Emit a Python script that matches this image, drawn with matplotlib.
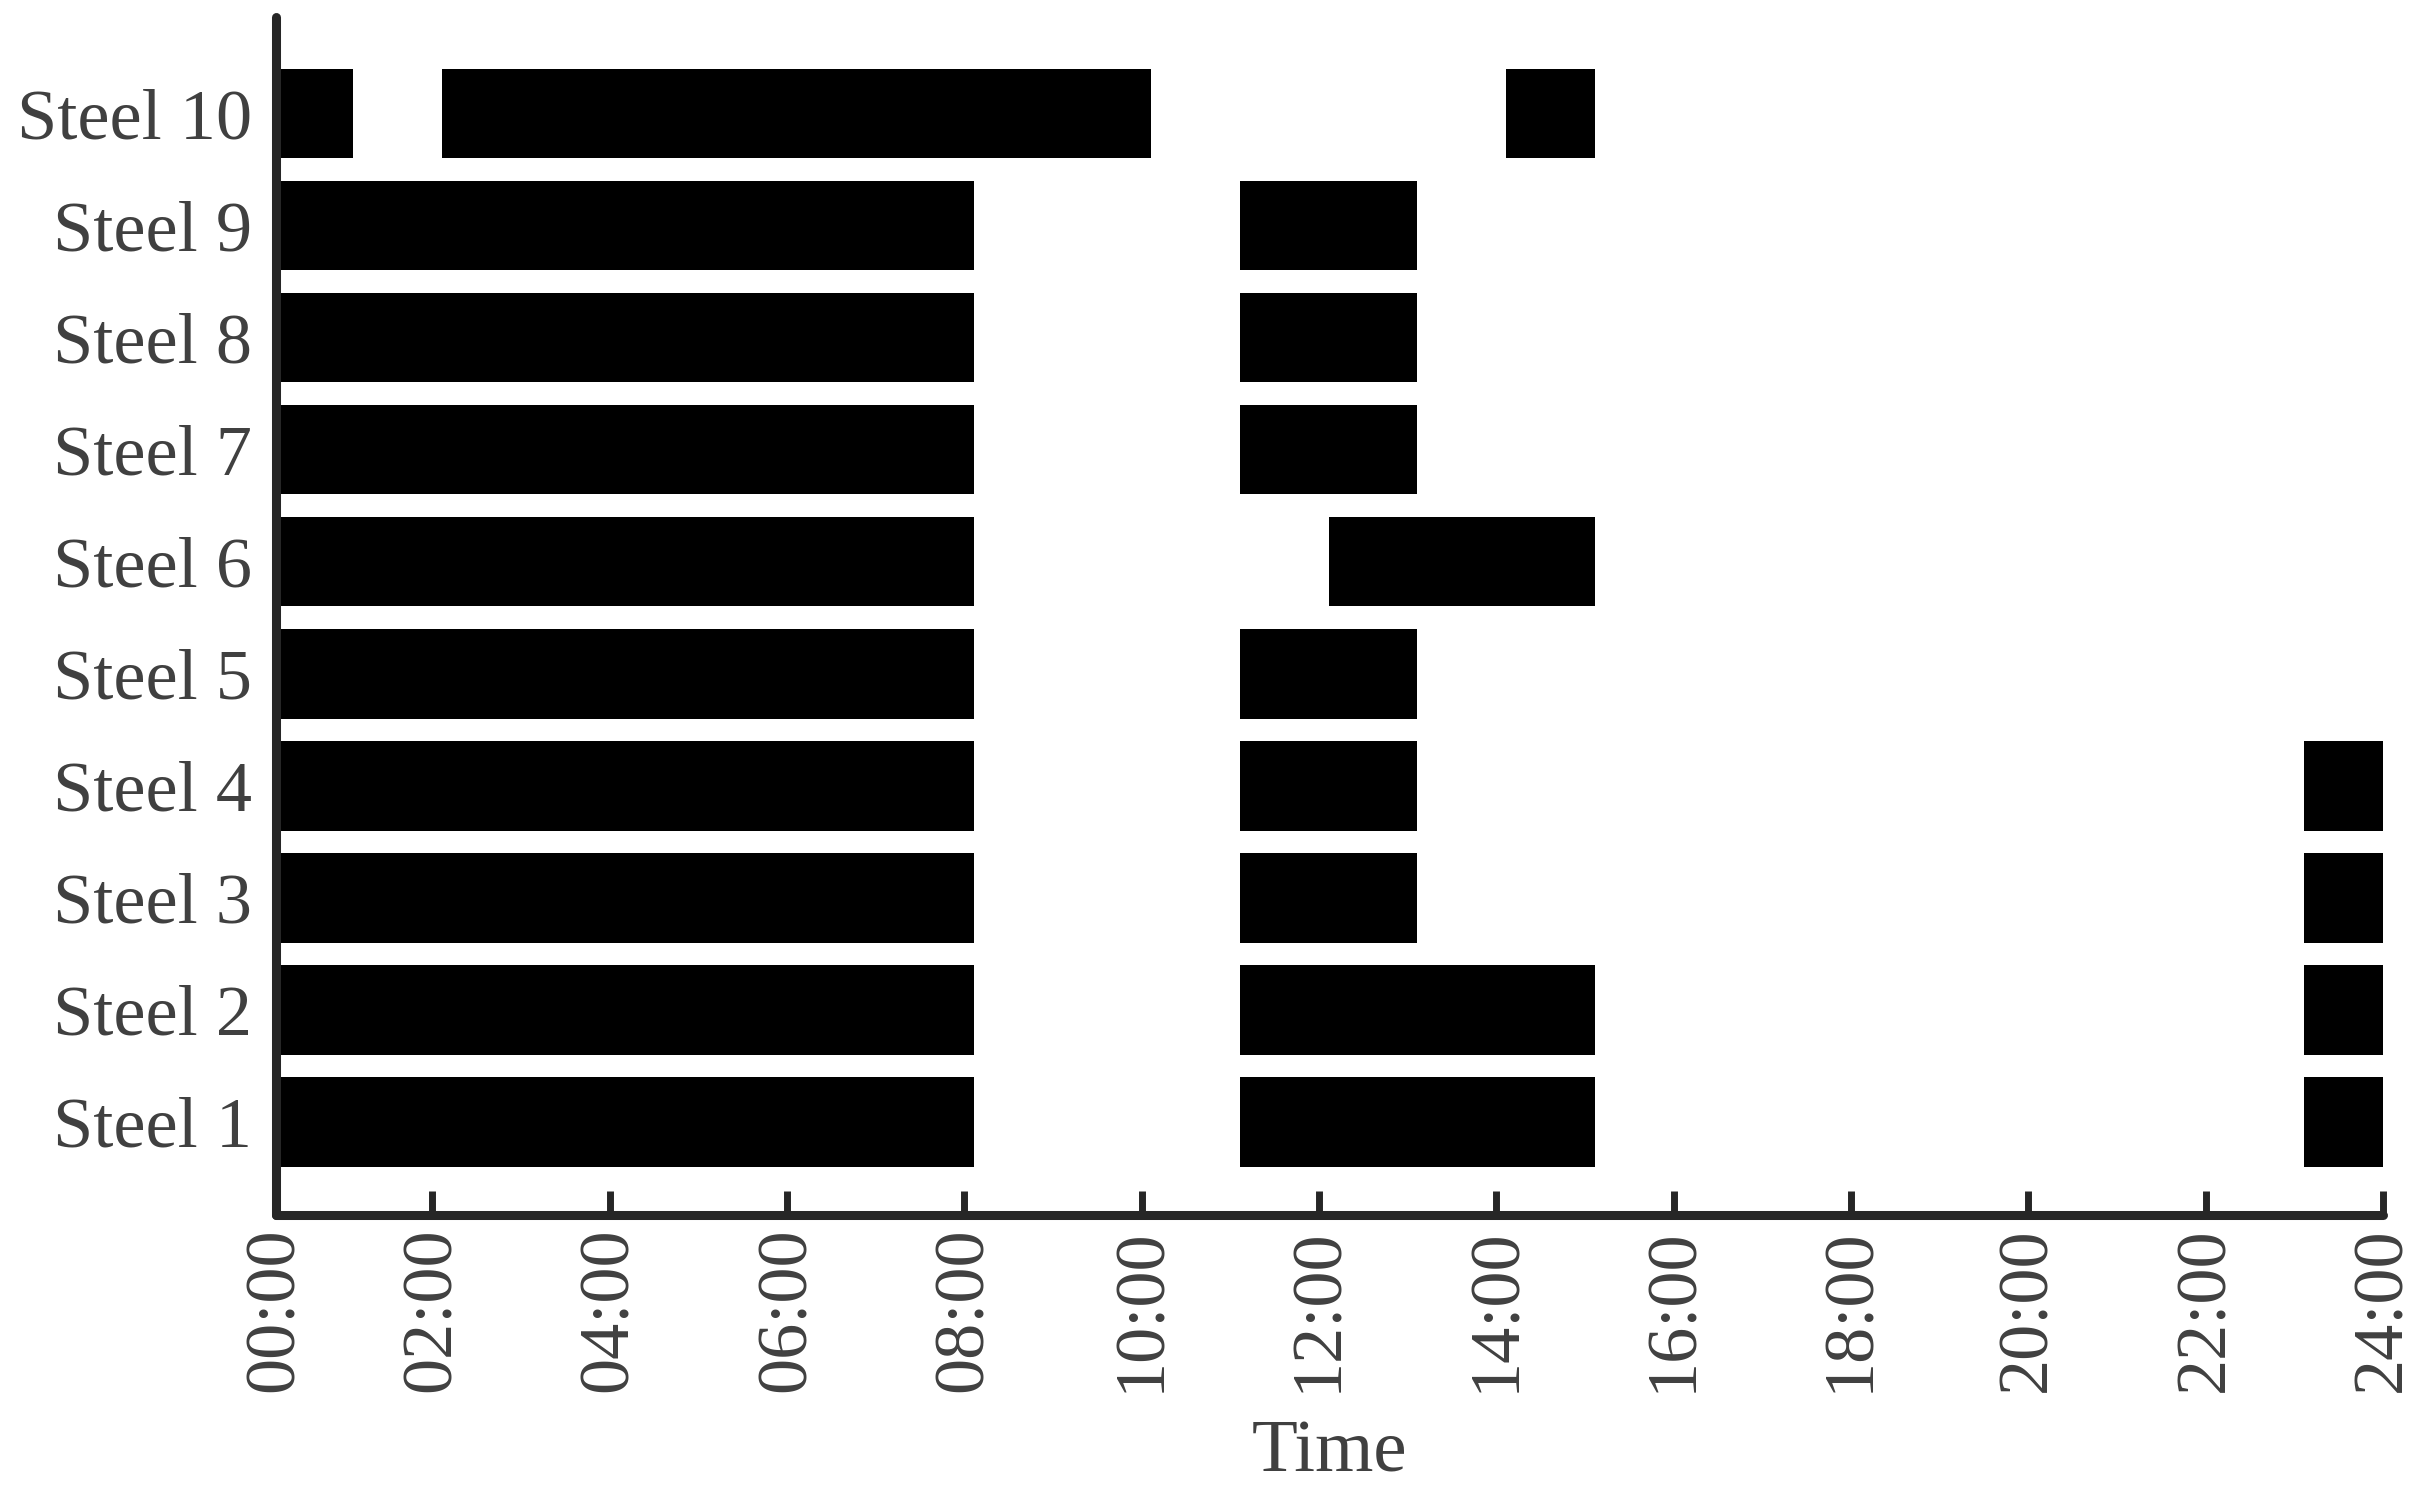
import matplotlib
matplotlib.use("Agg")
import matplotlib.pyplot as plt

steels = ["Steel 1", "Steel 2", "Steel 3", "Steel 4", "Steel 5",
          "Steel 6", "Steel 7", "Steel 8", "Steel 9", "Steel 10"]

# (start hour, duration hours) per steel
s1 = [(0.11, 8), (11.11, 4), (23.11, 1)]
s2 = [(0.11, 8), (11.11, 4), (23.11, 1)]
s3 = [(0.11, 8), (11.11, 2), (23.11, 1)]
s4 = [(0.11, 8), (11.11, 2), (23.11, 1)]
s5 = [(0.11, 8), (11.11, 2)]
s6 = [(0.11, 8), (12.11, 3)]
s7 = [(0.11, 8), (11.11, 2)]
s8 = [(0.11, 8), (11.11, 2)]
s9 = [(0.11, 8), (11.11, 2)]
s10 = [(0.11, 1), (2.11, 8), (14.11, 1)]
segments = [s1, s2, s3, s4, s5, s6, s7, s8, s9, s10]

hours = list(range(0, 25, 2))
hour_labels = ["%02d:00" % h for h in hours]

text_col = "#404040"
spine_col = "#262626"
plt.rcParams["font.family"] = ["Liberation Serif", "DejaVu Serif"]

fig = plt.figure(figsize=(24.27, 14.91), dpi=100)
ax = fig.add_axes([0.1136, 0.1851, 0.8683, 0.8035])

for i, segs in enumerate(segments):
    ax.broken_barh(segs, (i + 1 - 0.4, 0.8), facecolors="black")

x_left = 0.235
ax.set_xlim(x_left, 24)
ax.set_ylim(0.17, 10.86)

ticks = [x_left] + hours[1:]
ax.set_xticks(ticks)
ax.set_xticklabels(hour_labels, rotation=90, fontsize=52, color=text_col)
ax.set_yticks(range(1, len(steels) + 1))
ax.set_yticklabels(steels, fontsize=52, color=text_col)

ax.tick_params(axis="x", direction="in", length=17, width=5, color=spine_col, pad=9)
ax.tick_params(axis="y", length=0, pad=17)

for side in ["top", "right"]:
    ax.spines[side].set_visible(False)
for side in ["left", "bottom"]:
    ax.spines[side].set_linewidth(6.5)
    ax.spines[side].set_color(spine_col)
    ax.spines[side].set_capstyle("round")

ax.set_xlabel("Time", fontsize=54, color=text_col, va="baseline")
ax.xaxis.set_label_coords(0.5, -0.2137)

fig.savefig("out.png", dpi=100)
